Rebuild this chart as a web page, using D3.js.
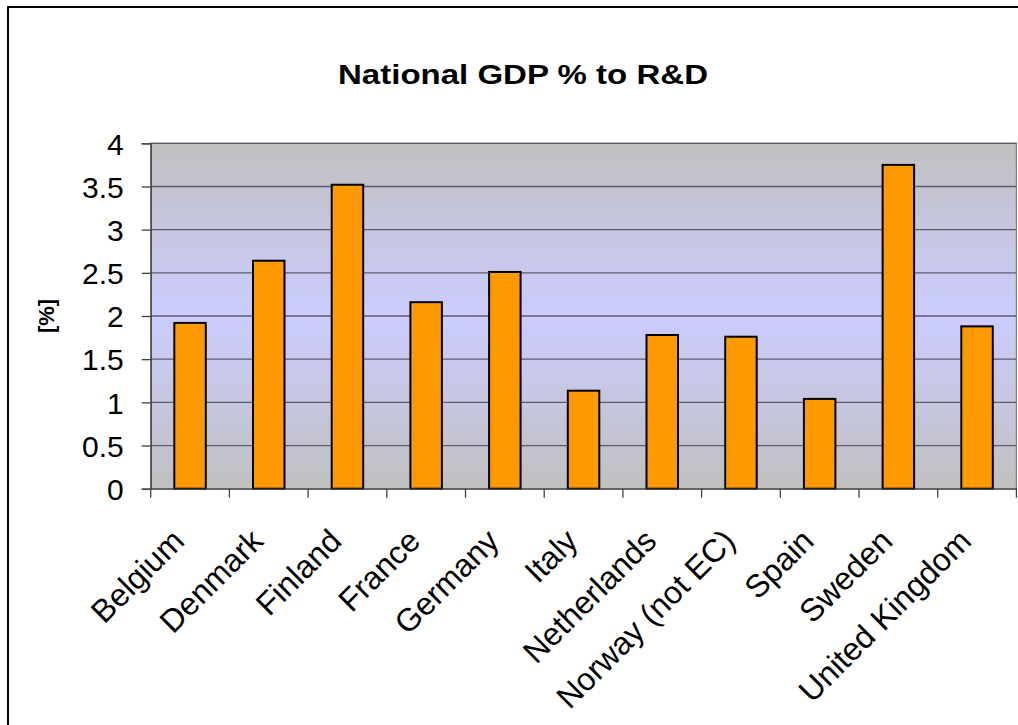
<!DOCTYPE html>
<html>
<head>
<meta charset="utf-8">
<script src="https://cdn.jsdelivr.net/npm/d3@7"></script>
<style>
  html, body { margin: 0; padding: 0; background: #fff; }
  svg { display: block; }
  text { font-family: "Liberation Sans", Arial, sans-serif; fill: #000; }
</style>
</head>
<body>
<svg id="chart" width="1018" height="725"></svg>
<script>
const categories = ["Belgium", "Denmark", "Finland", "France", "Germany", "Italy",
  "Netherlands", "Norway (not EC)", "Spain", "Sweden", "United Kingdom"];
const values = [1.92, 2.64, 3.52, 2.16, 2.51, 1.135, 1.78, 1.76, 1.04, 3.75, 1.88];
const yTicks = [0, 0.5, 1, 1.5, 2, 2.5, 3, 3.5, 4];
const titleText = "National GDP % to R&D";
const yLabelText = "[%]";

const svg = d3.select("#chart");
const plot = { left: 150.7, right: 1016.4, top: 143.3, bottom: 488.7 };

// outer chart frame (right/bottom edges fall outside the picture)
svg.append("rect")
  .attr("x", 8).attr("y", 7).attr("width", 1040).attr("height", 740)
  .attr("fill", "#fff").attr("stroke", "#000").attr("stroke-width", 2);

const x = d3.scaleBand().domain(categories).range([plot.left, plot.right]).paddingInner(0.6).paddingOuter(0.3);
const xTickScale = d3.scaleBand().domain(categories).range([plot.left, plot.right]);
const y = d3.scaleLinear().domain([0, 4]).range([plot.bottom, plot.top]);

// background gradient
const defs = svg.append("defs");
const grad = defs.append("linearGradient").attr("id", "bg").attr("x1", 0).attr("y1", 0).attr("x2", 0).attr("y2", 1);
grad.append("stop").attr("offset", "0%").attr("stop-color", "#C0C0C0");
grad.append("stop").attr("offset", "50%").attr("stop-color", "#CCCCFF");
grad.append("stop").attr("offset", "100%").attr("stop-color", "#C0C0C0");

svg.append("rect")
  .attr("x", plot.left).attr("y", plot.top)
  .attr("width", plot.right - plot.left).attr("height", plot.bottom - plot.top)
  .attr("fill", "url(#bg)").attr("stroke", "#808080").attr("stroke-width", 1.2);

// gridlines
svg.append("g").selectAll("line").data(yTicks.filter(d => d > 0)).join("line")
  .attr("x1", plot.left).attr("x2", plot.right)
  .attr("y1", d => y(d)).attr("y2", d => y(d))
  .attr("stroke", "#5c5c6c").attr("stroke-width", 1.3);

// bars
svg.append("g").selectAll("rect").data(values).join("rect")
  .attr("x", (d, i) => x(categories[i]))
  .attr("width", x.bandwidth())
  .attr("y", d => y(d))
  .attr("height", d => y(0) - y(d))
  .attr("fill", "#FF9900").attr("stroke", "#000").attr("stroke-width", 2);

// y axis
const yAxis = d3.axisLeft(y).tickValues(yTicks).tickSize(9).tickPadding(18).tickFormat(d3.format("~g"));
const yg = svg.append("g").attr("transform", `translate(${plot.left},0)`).call(yAxis);
yg.select(".domain").attr("stroke", "#404040").attr("stroke-width", 1.3);
yg.selectAll(".tick line").attr("stroke", "#404040").attr("stroke-width", 1.3);
yg.selectAll(".tick text").attr("font-size", 30).attr("font-family", "Liberation Sans, Arial, sans-serif").attr("fill", "#000").attr("dy", "0.36em");

// x axis
const xAxis = d3.axisBottom(xTickScale).tickSize(0).tickFormat("");
const xg = svg.append("g").attr("transform", `translate(0,${plot.bottom})`).call(xAxis);
xg.select(".domain").attr("stroke", "#404040").attr("stroke-width", 1.3);
// tick marks at band boundaries
const boundaries = categories.map(c => xTickScale(c)).concat([plot.right]);
svg.append("g").selectAll("line").data(boundaries).join("line")
  .attr("x1", d => d).attr("x2", d => d)
  .attr("y1", plot.bottom).attr("y2", plot.bottom + 9)
  .attr("stroke", "#404040").attr("stroke-width", 1.3);

// category labels rotated -45
svg.append("g").selectAll("text").data(categories).join("text")
  .attr("transform", d => `translate(${xTickScale(d) + xTickScale.bandwidth() / 2 - 4},543) rotate(-45)`)
  .attr("text-anchor", "end")
  .attr("font-size", 32)
  .text(d => d);

// title
svg.append("text")
  .attr("x", 523).attr("y", 84.3)
  .attr("text-anchor", "middle")
  .attr("font-size", 27).attr("font-weight", "bold")
  .attr("textLength", 370).attr("lengthAdjust", "spacingAndGlyphs")
  .text(titleText);

// y axis label
svg.append("text")
  .attr("transform", `translate(54,${(plot.top + plot.bottom) / 2}) rotate(-90)`)
  .attr("text-anchor", "middle")
  .attr("font-size", 22).attr("font-weight", "bold")
  .text(yLabelText);
</script>
</body>
</html>
